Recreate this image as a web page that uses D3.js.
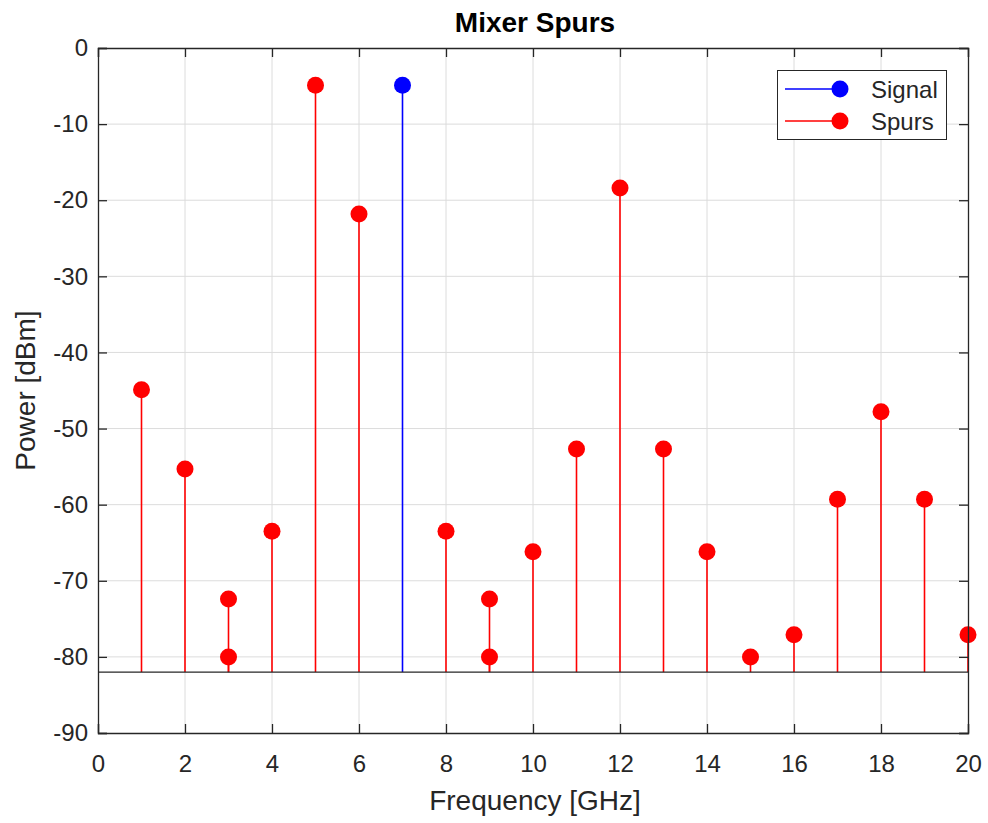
<!DOCTYPE html>
<html>
<head>
<meta charset="utf-8">
<script src="https://cdn.jsdelivr.net/npm/d3@7"></script>
<style>
  body { margin: 0; background: #fff; }
  svg { display: block; }
  text { font-family: "Liberation Sans", Arial, Helvetica, sans-serif; }
</style>
</head>
<body>
<svg id="chart" width="988" height="823"></svg>
<script>
// ---- Data ----
const signalFreq = [7];
const signalPower = [-4.9];
const spurFreq = [1, 2, 3, 3, 4, 5, 6, 8, 9, 9, 10, 11, 12, 13, 14, 15, 16, 17, 18, 19, 20];
const spurPower = [-44.9, -55.3, -72.4, -80, -63.5, -4.9, -21.8, -63.5, -72.4, -80, -66.2, -52.7, -18.4, -52.7, -66.2, -80, -77.1, -59.3, -47.8, -59.3, -77.1];
const baseValue = -82;
const xTicks = [0, 2, 4, 6, 8, 10, 12, 14, 16, 18, 20];
const yTicks = [0, -10, -20, -30, -40, -50, -60, -70, -80, -90];
const legendLabels = ["Signal", "Spurs"];
const seriesColors = ["#0000ff", "#ff0000"];

// ---- Layout ----
const svg = d3.select("#chart");
const L = 98, R = 968, T = 48, B = 733;
const x = d3.scaleLinear().domain([0, 20]).range([L, R]);
const y = d3.scaleLinear().domain([-90, 0]).range([B, T]);
const axisColor = "#262626";
const fontFam = "'Liberation Sans', Arial, Helvetica, sans-serif";

// grid
const g = svg.append("g");
g.selectAll(".gx").data(xTicks.slice(1, -1)).enter().append("line")
  .attr("x1", d => x(d)).attr("x2", d => x(d)).attr("y1", T).attr("y2", B)
  .attr("stroke", "#dcdcdc").attr("stroke-width", 1);
g.selectAll(".gy").data(yTicks.slice(1, -1)).enter().append("line")
  .attr("y1", d => y(d)).attr("y2", d => y(d)).attr("x1", L).attr("x2", R)
  .attr("stroke", "#dcdcdc").attr("stroke-width", 1);

// axes (ticks inside)
const tickLen = 9;
const fmt = d => String(d);
const xAxisB = d3.axisBottom(x).tickValues(xTicks).tickSize(-tickLen).tickPadding(22).tickFormat(fmt);
const xAxisT = d3.axisTop(x).tickValues(xTicks).tickSize(-tickLen).tickFormat("");
const yAxisL = d3.axisLeft(y).tickValues(yTicks).tickSize(-tickLen).tickPadding(10).tickFormat(fmt);
const yAxisR = d3.axisRight(y).tickValues(yTicks).tickSize(-tickLen).tickFormat("");

function styleAxis(sel) {
  sel.attr("font-size", null).attr("font-family", null);
  sel.select(".domain").attr("stroke", axisColor).attr("stroke-width", 1.3);
  sel.selectAll(".tick line").attr("stroke", axisColor).attr("stroke-width", 1.3);
  sel.selectAll(".tick text").attr("fill", axisColor)
     .style("font-size", "24px").style("font-family", fontFam);
}

// stems
const stems = svg.append("g");
function drawSeries(xs, ys, color) {
  const data = xs.map((f, i) => ({ f, p: ys[i] }));
  stems.selectAll(null).data(data).enter().append("line")
    .attr("x1", d => x(d.f)).attr("x2", d => x(d.f))
    .attr("y1", y(baseValue)).attr("y2", d => y(d.p))
    .attr("stroke", color).attr("stroke-width", 1.6);
  stems.selectAll(null).data(data).enter().append("circle")
    .attr("cx", d => x(d.f)).attr("cy", d => y(d.p)).attr("r", 8.5)
    .attr("fill", color);
}
drawSeries(signalFreq, signalPower, seriesColors[0]);
drawSeries(spurFreq, spurPower, seriesColors[1]);

// baseline
svg.append("line").attr("x1", x(0)).attr("x2", x(20))
  .attr("y1", y(baseValue)).attr("y2", y(baseValue))
  .attr("stroke", axisColor).attr("stroke-width", 1.3);

svg.append("g").attr("transform", `translate(0,${B})`).call(xAxisB).call(styleAxis);
svg.append("g").attr("transform", `translate(0,${T})`).call(xAxisT).call(styleAxis);
svg.append("g").attr("transform", `translate(${L},0)`).call(yAxisL).call(styleAxis);
svg.append("g").attr("transform", `translate(${R},0)`).call(yAxisR).call(styleAxis);

// title and labels
svg.append("text").attr("x", 535).attr("y", 32).attr("text-anchor", "middle")
  .style("font-size", "28px").attr("font-weight", "bold").attr("fill", "#000").text("Mixer Spurs");
svg.append("text").attr("x", 535).attr("y", 810).attr("text-anchor", "middle")
  .style("font-size", "28px").attr("fill", axisColor).text("Frequency [GHz]");
svg.append("text").attr("transform", `translate(35,${(T + B) / 2}) rotate(-90)`)
  .attr("text-anchor", "middle").style("font-size", "28px").attr("fill", axisColor).text("Power [dBm]");

// legend
const lg = svg.append("g");
lg.append("rect").attr("x", 777.5).attr("y", 70.5).attr("width", 169).attr("height", 69)
  .attr("fill", "#fff").attr("stroke", axisColor).attr("stroke-width", 1);
legendLabels.forEach((lab, i) => {
  const yy = 89 + i * 32;
  lg.append("line").attr("x1", 785).attr("x2", 840).attr("y1", yy).attr("y2", yy)
    .attr("stroke", seriesColors[i]).attr("stroke-width", 1.6);
  lg.append("circle").attr("cx", 840).attr("cy", yy).attr("r", 8.5).attr("fill", seriesColors[i]);
  lg.append("text").attr("x", 871).attr("y", yy + 8.5).style("font-size", "24px")
    .attr("fill", axisColor).text(lab);
});
</script>
</body>
</html>
